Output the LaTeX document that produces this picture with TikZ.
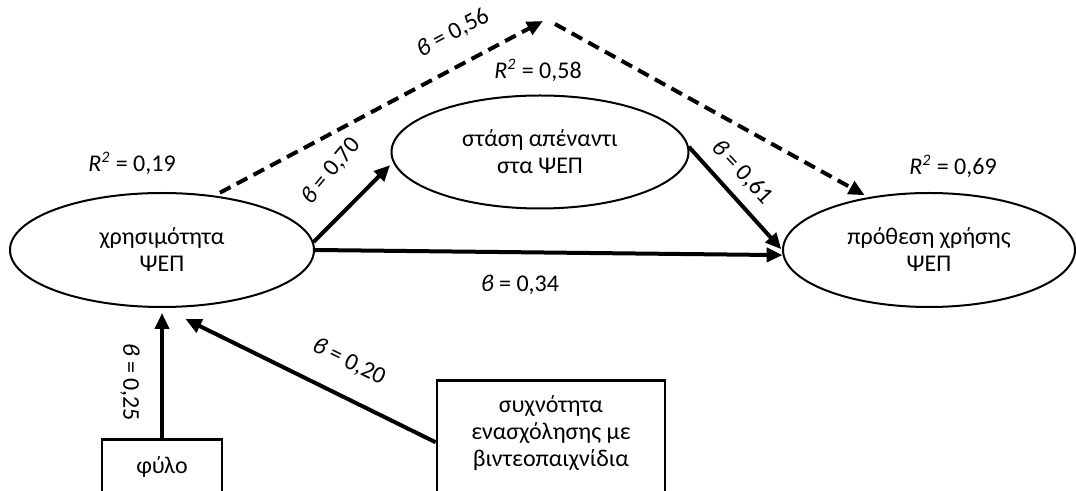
\documentclass[tikz,border=0pt]{standalone}
\usepackage{fontspec}
\setmainfont{Carlito}
\usetikzlibrary{shapes.geometric,arrows.meta}
\newcommand{\bet}{\textit{ϐ}}
\newcommand{\Rsq}{\textit{R}\textsuperscript{\textit{2}}}
\begin{document}
\begin{tikzpicture}[x=0.5pt,y=-0.5pt,
  every node/.style={font=\fontsize{12}{13.5}\selectfont},
  oval/.style={ellipse,draw,line width=1pt,inner sep=0pt,align=center},
  boxnode/.style={rectangle,draw,line width=1.3pt,inner sep=0pt},
  lab/.style={inner sep=0pt},
  arr/.style={line width=2pt,-{Triangle[length=8pt,width=7pt]}},
  darr/.style={arr,dash pattern=on 6pt off 3.5pt}]
\useasboundingbox (0,0) rectangle (1076,491);
\clip (0,0) rectangle (1076,491);
% ellipses
\node[oval,minimum width=152pt,minimum height=57pt] (A) at (162,250) {χρησιμότητα\\ΨΕΠ};
\node[oval,minimum width=148.5pt,minimum height=56.5pt] (B) at (540,152) {στάση απέναντι\\στα ΨΕΠ};
\node[oval,minimum width=146pt,minimum height=57pt] (C) at (929,250) {πρόθεση χρήσης\\ΨΕΠ};
% boxes
\node[boxnode,minimum width=60pt,minimum height=40pt,anchor=north] (G) at (162,438) {};
\node[lab] (Gt) at (162,467) {φύλο};
\node[boxnode,minimum width=114pt,minimum height=62pt,anchor=north] (F) at (551,379) {};
\node[lab,align=center] (Ft) at (551,433) {συχνότητα\\ενασχόλησης με\\βιντεοπαιχνίδια};
% apex of dashed path
\coordinate (P1) at (543,21);
\coordinate (P2) at (555,24);
% connectors
\draw[darr,shorten <=3pt] (A.46) -- (P1);
\draw[darr,shorten >=2pt] (P2) -- (C.139);
\draw[arr,shorten >=2pt] (A.3) -- (B.184);
\draw[arr] (A.east) -- (C.182);
\draw[arr,shorten >=0.5pt] (B.2) -- (C.180);
\draw[arr,shorten >=2.5pt] (G.north) -- (A.south);
\draw[arr,shorten >=12.5pt] (F.west) -- (A.-89);
% labels
\node[lab] (r19) at (132,163) {\Rsq{} = 0,19};
\node[lab] (r58) at (538,70) {\Rsq{} = 0,58};
\node[lab] (r69) at (953,166) {\Rsq{} = 0,69};
\node[lab,rotate=28] (b56) at (453,33) {\bet{} = 0,56};
\node[lab,rotate=50] (b70) at (331,171) {\bet{} = 0,70};
\node[lab,rotate=-47] (b61) at (742,172) {\bet{} = 0,61};
\node[lab] (b34) at (520,285) {\bet{} = 0,34};
\node[lab,rotate=-90] (b25) at (130,382) {\bet{} = 0,25};
\node[lab,rotate=-26] (b20) at (349,362) {\bet{} = 0,20};
\end{tikzpicture}
\end{document}
